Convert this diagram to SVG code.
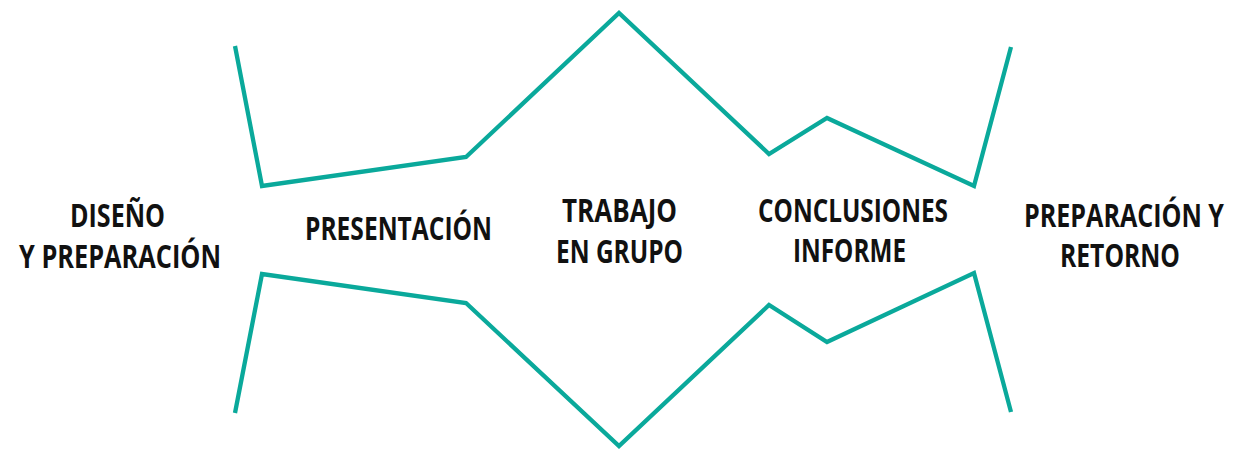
<svg xmlns="http://www.w3.org/2000/svg" width="1233" height="449" viewBox="0 0 1233 449">
<style>
.line{fill:none;stroke:#0aa99b;stroke-width:4.3;stroke-linejoin:miter;stroke-miterlimit:10}
.lbl{font-family:"Open Sans","Liberation Sans",sans-serif;font-weight:700;font-size:31.5px;fill:#111;text-anchor:middle}
</style>
<rect width="1233" height="449" fill="#fff"/>
<g id="connectors">
<polyline class="line" points="235,46 262,186 466,157 619,13 769,154 827,118 974,186 1011,47"/>
<polyline class="line" points="235,413 262,274 466,303 619,446 769,305 827,342 974,273 1011,412"/>
</g>
<g id="n1">
<text class="lbl" transform="translate(117.5,227) scale(0.8,1)" textLength="118.75" lengthAdjust="spacingAndGlyphs">DISEÑO</text>
<text class="lbl" transform="translate(120,268) scale(0.8,1)" textLength="252.5" lengthAdjust="spacingAndGlyphs">Y PREPARACIÓN</text>
</g>
<g id="n2">
<text class="lbl" transform="translate(398.5,240) scale(0.8,1)" textLength="233.75" lengthAdjust="spacingAndGlyphs">PRESENTACIÓN</text>
</g>
<g id="n3">
<text class="lbl" transform="translate(619.5,222) scale(0.8,1)" textLength="143.75" lengthAdjust="spacingAndGlyphs">TRABAJO</text>
<text class="lbl" transform="translate(619.5,263) scale(0.8,1)" textLength="158.75" lengthAdjust="spacingAndGlyphs">EN GRUPO</text>
</g>
<g id="n4">
<text class="lbl" transform="translate(853,222) scale(0.8,1)" textLength="237.5" lengthAdjust="spacingAndGlyphs">CONCLUSIONES</text>
<text class="lbl" transform="translate(849.5,262) scale(0.8,1)" textLength="141.25" lengthAdjust="spacingAndGlyphs">INFORME</text>
</g>
<g id="n5">
<text class="lbl" transform="translate(1124,227) scale(0.8,1)" textLength="250" lengthAdjust="spacingAndGlyphs">PREPARACIÓN Y</text>
<text class="lbl" transform="translate(1120,267) scale(0.8,1)" textLength="150" lengthAdjust="spacingAndGlyphs">RETORNO</text>
</g>
</svg>
